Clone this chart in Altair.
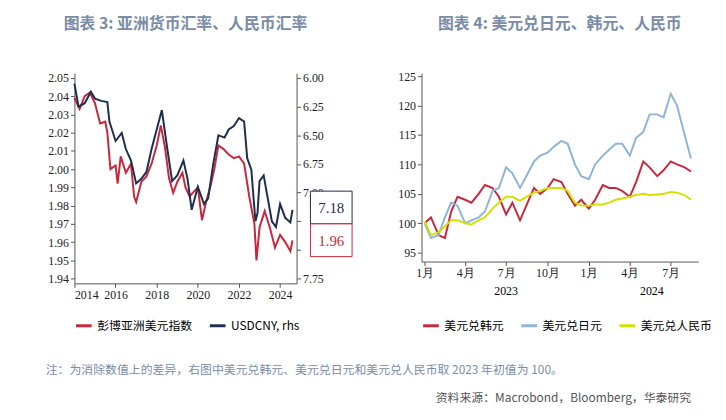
import altair as alt
import pandas as pd

# left panel: Bloomberg Asia dollar index (lhs) and USDCNY (rhs, inverted)
asia_x = [2014.0, 2014.25, 2014.5, 2014.75, 2015.0, 2015.25, 2015.5, 2015.6, 2015.75, 2016.0,
          2016.1, 2016.25, 2016.5, 2016.75, 2016.9, 2017.0, 2017.25, 2017.5, 2017.75, 2018.0,
          2018.2, 2018.4, 2018.6, 2018.8, 2019.0, 2019.25, 2019.4, 2019.6, 2019.75, 2020.0,
          2020.2, 2020.4, 2020.6, 2020.8, 2021.0, 2021.25, 2021.5, 2021.75, 2022.0, 2022.25,
          2022.5, 2022.75, 2022.85, 2023.0, 2023.25, 2023.5, 2023.75, 2024.0, 2024.25, 2024.5, 2024.6]
asia_v = [2.039, 2.033, 2.040, 2.042, 2.036, 2.025, 2.026, 2.020, 2.000, 2.002,
          1.992, 2.007, 1.998, 2.003, 1.985, 1.982, 1.993, 1.996, 2.003, 2.013,
          2.024, 2.012, 1.995, 1.987, 1.993, 1.998, 1.990, 1.985, 1.987, 1.990,
          1.972, 1.982, 1.990, 2.000, 2.013, 2.011, 2.008, 2.006, 2.007, 2.003,
          1.985, 1.970, 1.950, 1.968, 1.977, 1.968, 1.957, 1.964, 1.960, 1.955, 1.961]
cny_x = [2014.0, 2014.2, 2014.5, 2014.8, 2015.0, 2015.3, 2015.6, 2015.7, 2016.0, 2016.3,
         2016.5, 2016.75, 2017.0, 2017.25, 2017.5, 2017.75, 2018.0, 2018.25, 2018.5, 2018.75,
         2019.0, 2019.3, 2019.5, 2019.7, 2020.0, 2020.3, 2020.5, 2020.75, 2021.0, 2021.3,
         2021.5, 2021.75, 2022.0, 2022.25, 2022.4, 2022.6, 2022.8, 2022.9, 2023.0, 2023.2,
         2023.4, 2023.6, 2023.8, 2024.0, 2024.25, 2024.5, 2024.6]
cny_v = [6.05, 6.25, 6.22, 6.12, 6.18, 6.20, 6.21, 6.38, 6.55, 6.48,
         6.62, 6.72, 6.92, 6.88, 6.82, 6.62, 6.45, 6.28, 6.60, 6.90,
         6.85, 6.72, 6.88, 7.15, 6.95, 7.10, 7.05, 6.75, 6.50, 6.52,
         6.45, 6.42, 6.35, 6.38, 6.70, 6.80, 7.25, 7.18, 6.90, 6.85,
         7.05, 7.25, 7.30, 7.10, 7.22, 7.26, 7.15]

# right panel: indexed to 100 at start of 2023
fx_dates = ["2023-01-01", "2023-01-15", "2023-02-01", "2023-02-15", "2023-03-01", "2023-03-15",
            "2023-04-01", "2023-04-15", "2023-05-01", "2023-05-15", "2023-06-01", "2023-06-15",
            "2023-07-01", "2023-07-15", "2023-08-01", "2023-08-15", "2023-09-01", "2023-09-15",
            "2023-10-01", "2023-10-15", "2023-11-01", "2023-11-15", "2023-12-01", "2023-12-15",
            "2024-01-01", "2024-01-15", "2024-02-01", "2024-02-15", "2024-03-01", "2024-03-15",
            "2024-04-01", "2024-04-15", "2024-05-01", "2024-05-15", "2024-06-01", "2024-06-15",
            "2024-07-01", "2024-07-15", "2024-08-01", "2024-08-15"]
krw = [100, 101, 98, 97.5, 102, 104.5, 104, 103.5, 105, 106.5, 106, 104.5, 101.5, 103.5, 100.5, 103,
       106, 105, 106, 107.5, 107, 105, 103, 104, 102.5, 104, 106.5, 106, 106, 105.5, 104.5, 107,
       110.5, 109.5, 108, 109, 110.5, 110, 109.5, 108.8]
jpy = [100, 97.5, 98, 101, 103.5, 103, 100, 100.5, 101, 102, 105.5, 106, 109.5, 108.5, 106, 108,
       110.5, 111.5, 112, 113, 114, 113.5, 110, 108, 107.5, 110, 111.5, 112.5, 113.5, 113.5, 111.5, 114.5,
       115.5, 118.5, 118.5, 118, 122, 120, 115, 111]
cnh = [100.3, 98, 98.5, 99.5, 100.5, 100.5, 100, 99.8, 100.5, 101, 102.5, 103.5, 104.5, 104.5, 103.8, 104.5,
       105.2, 105.5, 106, 106, 106, 105.5, 103.5, 103, 103, 103.2, 103.2, 103.5, 104, 104.2, 104.5, 104.8,
       105, 104.8, 104.9, 105, 105.3, 105.2, 104.8, 104]

left_names = ["彭博亚洲美元指数", "USDCNY, rhs"]
right_names = ["美元兑韩元", "美元兑日元", "美元兑人民币"]
callouts = ["7.18", "1.96"]

RED, NAVY, BLUE, YEL = "#c8283c", "#1f2d4e", "#8fb4d9", "#d4e000"
SERIF = "Liberation Serif"
CJK = "Noto Sans CJK SC"
LW, LH = 224, 212
RW, RH = 279, 190

left_df = pd.concat([
    pd.DataFrame({"x": asia_x, "v": asia_v, "s": left_names[0]}),
    pd.DataFrame({"x": cny_x, "v": cny_v, "s": left_names[1]}),
])
leg_color = alt.Color("s:N", scale=alt.Scale(domain=left_names, range=[RED, NAVY]),
                      legend=alt.Legend(title=None, orient="bottom", direction="horizontal",
                                        symbolType="stroke", symbolStrokeWidth=3, symbolSize=250,
                                        labelFont=CJK, labelFontSize=12, offset=16))
xl = alt.X("x:Q", scale=alt.Scale(domain=[2014, 2024.8], nice=False),
           axis=alt.Axis(values=[2014, 2016, 2018, 2020, 2022, 2024], format="d", title=None,
                         grid=False, labelFont=SERIF, labelFontSize=12, tickSize=4))
base_l = alt.Chart(left_df)
asia_line = base_l.transform_filter(alt.datum.s == left_names[0]).mark_line(strokeWidth=2).encode(
    x=xl,
    y=alt.Y("v:Q", scale=alt.Scale(domain=[1.9374, 2.0526], nice=False, zero=False),
            axis=alt.Axis(values=[1.94, 1.95, 1.96, 1.97, 1.98, 1.99, 2.0, 2.01, 2.02, 2.03, 2.04, 2.05],
                          format=".2f", title=None, grid=False, labelFont=SERIF, labelFontSize=12, tickSize=4)),
    color=leg_color,
)
cny_line = base_l.transform_filter(alt.datum.s == left_names[1]).mark_line(strokeWidth=2).encode(
    x=xl,
    y=alt.Y("v:Q", scale=alt.Scale(domain=[5.958, 7.792], nice=False, zero=False, reverse=True),
            axis=alt.Axis(orient="right", values=[6.0, 6.25, 6.5, 6.75, 7.0, 7.25, 7.5, 7.75],
                          labelExpr="(datum.value == 7.25 || datum.value == 7.5) ? '' : format(datum.value, '.2f')",
                          title=None, grid=False, labelFont=SERIF, labelFontSize=12, tickSize=4)),
    color=leg_color,
)
one = alt.Chart(pd.DataFrame({"a": [0]}))
box1 = one.mark_rect(fill="white", stroke=NAVY).encode(
    x=alt.value(LW + 14), x2=alt.value(LW + 56), y=alt.value(119), y2=alt.value(152))
box2 = one.mark_rect(fill="white", stroke=RED).encode(
    x=alt.value(LW + 14), x2=alt.value(LW + 56), y=alt.value(152), y2=alt.value(185))
t1 = one.mark_text(font=SERIF, fontSize=15, color=NAVY).encode(
    x=alt.value(LW + 35), y=alt.value(136), text=alt.value(callouts[0]))
t2 = one.mark_text(font=SERIF, fontSize=15, color=RED).encode(
    x=alt.value(LW + 35), y=alt.value(169), text=alt.value(callouts[1]))
left = alt.layer(asia_line, cny_line, box1, box2, t1, t2).resolve_scale(y="independent").properties(
    width=LW, height=LH,
    title=alt.TitleParams("图表 3: 亚洲货币汇率、人民币汇率", font=CJK, fontSize=16, color="#7b8ca6",
                          fontWeight="bold", offset=40))

right_df = pd.concat([
    pd.DataFrame({"d": fx_dates, "v": krw, "s": right_names[0]}),
    pd.DataFrame({"d": fx_dates, "v": jpy, "s": right_names[1]}),
    pd.DataFrame({"d": fx_dates, "v": cnh, "s": right_names[2]}),
])
year_df = pd.DataFrame({"d": ["2023-07-01", "2024-05-20"], "t": ["2023", "2024"]})
xr_scale = alt.Scale(domain=["2022-12-25", "2024-08-31"])
right_lines = alt.Chart(right_df).mark_line(strokeWidth=2).encode(
    x=alt.X("d:T", scale=xr_scale,
            axis=alt.Axis(values=["2023-01-01", "2023-04-01", "2023-07-01", "2023-10-01",
                                  "2024-01-01", "2024-04-01", "2024-07-01"],
                          labelExpr="month(datum.value) + 1 + '月'", title=None, grid=False,
                          labelFont=SERIF, labelFontSize=12, tickSize=4)),
    y=alt.Y("v:Q", scale=alt.Scale(domain=[93.5, 125.5], nice=False, zero=False),
            axis=alt.Axis(values=[95, 100, 105, 110, 115, 120, 125], title=None, grid=False,
                          labelFont=SERIF, labelFontSize=12, tickSize=4)),
    color=alt.Color("s:N", scale=alt.Scale(domain=right_names, range=[RED, BLUE, YEL]),
                    legend=alt.Legend(title=None, orient="bottom", direction="horizontal",
                                      symbolType="stroke", symbolStrokeWidth=3, symbolSize=250,
                                      labelFont=CJK, labelFontSize=12, offset=38)),
)
years = alt.Chart(year_df).mark_text(font=SERIF, fontSize=12).encode(
    x=alt.X("d:T", scale=xr_scale), y=alt.value(RH + 30), text="t:N")
right = alt.layer(right_lines, years).properties(
    width=RW, height=RH,
    title=alt.TitleParams("图表 4: 美元兑日元、韩元、人民币", font=CJK, fontSize=16, color="#7b8ca6",
                          fontWeight="bold", offset=38))

notes = ["注：为消除数值上的差异，右图中美元兑韩元、美元兑日元和美元兑人民币取 2023 年初值为 100。",
         "资料来源：Macrobond，Bloomberg，华泰研究"]
foot = alt.layer(
    one.mark_text(font=CJK, fontSize=12, color="#7b8ca6", align="left").encode(
        x=alt.value(-29), y=alt.value(8), text=alt.value(notes[0])),
    one.mark_text(font=CJK, fontSize=12, color="#555555", align="right").encode(
        x=alt.value(622), y=alt.value(37), text=alt.value(notes[1])),
).properties(width=610, height=40)

chart = alt.vconcat(
    alt.hconcat(left, right, spacing=45).resolve_scale(color="independent"),
    foot, spacing=30,
).configure_view(stroke=None).configure_axis(domainColor="#555555", tickColor="#555555",
                                             labelColor="#222222").properties(
    padding={"left": 38, "top": 6, "right": 5, "bottom": 5})
chart.save("out.html", embed_options={"renderer": "svg", "actions": False})
